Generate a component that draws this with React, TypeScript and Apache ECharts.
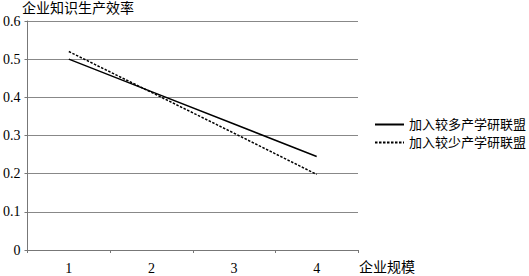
import React, { useEffect, useRef } from "react";
import * as echarts from "echarts";

const categories = ["1", "2", "3", "4"];
const moreAlliance = [0.5, 0.415, 0.33, 0.245];
const lessAlliance = [0.52, 0.413, 0.306, 0.198];
const seriesNames = ["加入较多产学研联盟", "加入较少产学研联盟"];
const yTicks = [0, 0.1, 0.2, 0.3, 0.4, 0.5, 0.6];

const FONT = "Liberation Serif, Noto Sans CJK SC, serif";

export default function App() {
  const ref = useRef<HTMLDivElement>(null);
  useEffect(() => {
    if (!ref.current) return;
    const chart = echarts.init(ref.current, undefined, { renderer: "svg" });
    chart.setOption({
      animation: false,
      textStyle: { fontFamily: FONT, color: "#000", fontSize: 14 },
      grid: { left: 25, right: 171, top: 21, bottom: 26, containLabel: false },
      title: {
        text: "企业知识生产效率",
        left: 22,
        top: 1,
        padding: 0,
        textStyle: { fontFamily: FONT, fontSize: 14, fontWeight: "normal", color: "#000" },
      },
      legend: {
        orient: "vertical",
        left: 374,
        top: 118,
        padding: 0,
        itemWidth: 29,
        itemHeight: 13,
        itemGap: 5,
        itemStyle: { opacity: 0 },
        textStyle: { fontFamily: FONT, fontSize: 13, color: "#000" },
        data: seriesNames,
      },
      xAxis: {
        type: "category",
        data: categories,
        boundaryGap: true,
        name: "企业规模",
        nameLocation: "end",
        nameGap: 1,
        nameTextStyle: { fontFamily: FONT, fontSize: 14, color: "#000", verticalAlign: "top", padding: [11, 0, 0, 0] },
        axisLine: { lineStyle: { color: "#777", width: 1 } },
        axisTick: { show: true, length: 3, lineStyle: { color: "#777" } },
        axisLabel: { fontFamily: FONT, fontSize: 14, color: "#000", margin: 11 },
      },
      yAxis: {
        type: "value",
        min: 0,
        max: 0.6,
        interval: 0.1,
        axisLine: { show: true, lineStyle: { color: "#777", width: 1 } },
        axisTick: { show: true, length: 3, lineStyle: { color: "#777" } },
        splitLine: { lineStyle: { color: "#888", width: 1 } },
        axisLabel: {
          fontFamily: FONT,
          fontSize: 14,
          color: "#000",
          margin: 7,
          formatter: (v: number) => {
            const t = yTicks.find((x) => Math.abs(x - v) < 1e-9);
            return t === 0 ? "0" : String(Math.round(v * 10) / 10);
          },
        },
      },
      series: [
        {
          name: seriesNames[0],
          type: "line",
          data: moreAlliance,
          symbol: "none",
          lineStyle: { color: "#000", width: 1.5, type: "solid" },
          itemStyle: { color: "#000" },
        },
        {
          name: seriesNames[1],
          type: "line",
          data: lessAlliance,
          symbol: "none",
          lineStyle: { color: "#000", width: 1.5, type: [2.5, 1.5] },
          itemStyle: { color: "#000" },
        },
      ],
    });
    return () => chart.dispose();
  }, []);
  return <div ref={ref} style={{ width: 529, height: 276, position: "absolute", left: 0, top: 0 }} />;
}
